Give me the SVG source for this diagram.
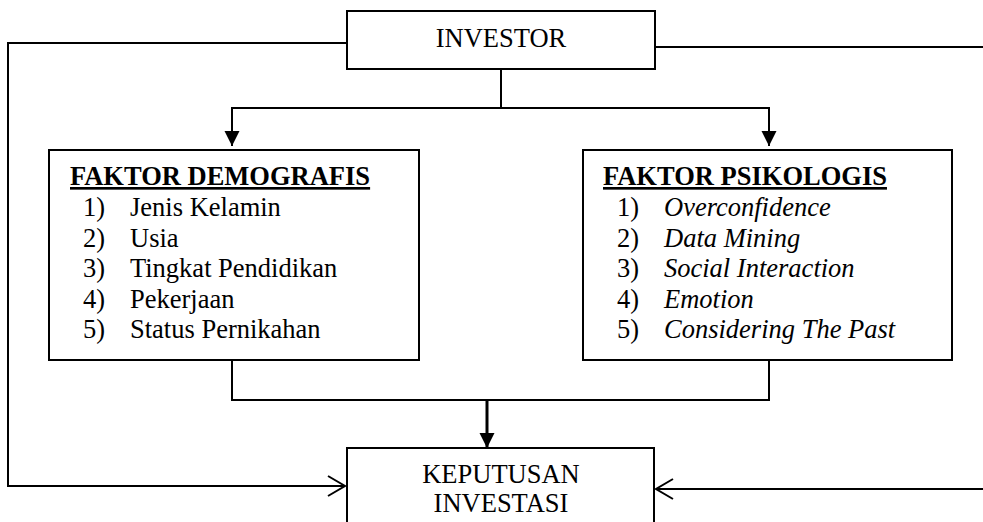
<svg xmlns="http://www.w3.org/2000/svg" width="983" height="522" viewBox="0 0 983 522">
<style>
.box{fill:#fff;stroke:#000;stroke-width:2}
.ln{fill:none;stroke:#000;stroke-width:2}
.thick{fill:none;stroke:#000;stroke-width:3}
text{font-family:"Liberation Serif","Times New Roman",serif;font-size:26.5px;fill:#000}
.t{font-weight:bold;text-decoration:underline}
.c{text-anchor:middle}
.i{font-style:italic}
</style>
<defs>
<marker id="fa" markerUnits="userSpaceOnUse" markerWidth="16" markerHeight="16" refX="15" refY="8" orient="auto">
<path d="M0,0.5 L15,8 L0,15.5 Z" fill="#000"/>
</marker>
<marker id="oa" markerUnits="userSpaceOnUse" markerWidth="20" markerHeight="22" refX="18" refY="11" orient="auto">
<path d="M1,1 L18,11 L1,21" fill="none" stroke="#000" stroke-width="2"/>
</marker>
</defs>
<g id="connectors">
<polyline class="ln" points="347,43 8,43 8,486 345,486" marker-end="url(#oa)"/>
<line class="ln" x1="655" y1="47" x2="983" y2="47"/>
<line class="ln" x1="983" y1="489" x2="656" y2="489" marker-end="url(#oa)"/>
<line class="ln" x1="501" y1="69" x2="501" y2="108"/>
<polyline class="ln" points="232,146 232,108 769,108 769,146"/>
<line class="ln" x1="232" y1="108" x2="232" y2="146" marker-end="url(#fa)"/>
<line class="ln" x1="769" y1="108" x2="769" y2="146" marker-end="url(#fa)"/>
<polyline class="ln" points="232,360 232,400 769,400 769,360"/>
<line class="thick" x1="487" y1="400" x2="487" y2="448" marker-end="url(#fa)"/>
</g>
<g id="investor">
<rect class="box" x="347" y="11" width="308" height="58"/>
<text class="c" x="501" y="47">INVESTOR</text>
</g>
<g id="demografis">
<rect class="box" x="49" y="150" width="370" height="210"/>
<text class="t" x="70" y="185">FAKTOR DEMOGRAFIS</text>
<text x="83" y="216">1)</text><text x="130" y="216">Jenis Kelamin</text>
<text x="83" y="246.5">2)</text><text x="130" y="246.5">Usia</text>
<text x="83" y="277">3)</text><text x="130" y="277">Tingkat Pendidikan</text>
<text x="83" y="307.5">4)</text><text x="130" y="307.5">Pekerjaan</text>
<text x="83" y="338">5)</text><text x="130" y="338">Status Pernikahan</text>
</g>
<g id="psikologis">
<rect class="box" x="583" y="150" width="369" height="210"/>
<text class="t" x="603" y="185">FAKTOR PSIKOLOGIS</text>
<text x="617" y="216">1)</text><text class="i" x="664" y="216">Overconfidence</text>
<text x="617" y="246.5">2)</text><text class="i" x="664" y="246.5">Data Mining</text>
<text x="617" y="277">3)</text><text class="i" x="664" y="277">Social Interaction</text>
<text x="617" y="307.5">4)</text><text class="i" x="664" y="307.5">Emotion</text>
<text x="617" y="338">5)</text><text class="i" x="664" y="338">Considering The Past</text>
</g>
<g id="keputusan">
<rect class="box" x="347" y="448" width="307" height="90"/>
<text class="c" x="501" y="483">KEPUTUSAN</text>
<text class="c" x="501" y="512">INVESTASI</text>
</g>
</svg>
